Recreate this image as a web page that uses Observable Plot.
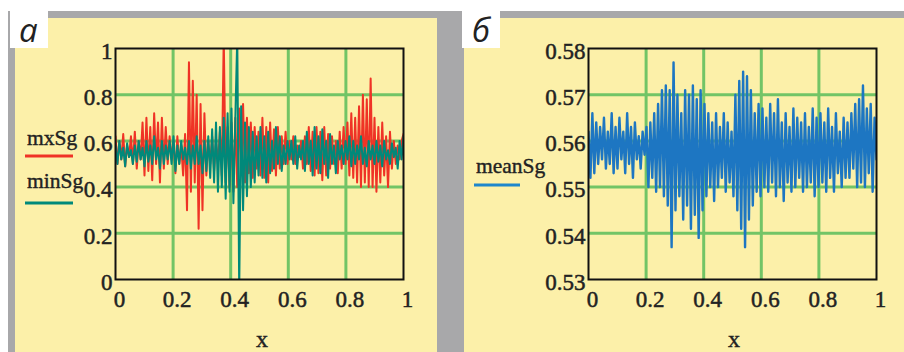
<!DOCTYPE html>
<html><head><meta charset="utf-8">
<script src="https://cdn.jsdelivr.net/npm/d3@7"></script>
<script src="https://cdn.jsdelivr.net/npm/@observablehq/plot@0.6"></script>
<style>
body{margin:0;background:#fff;width:904px;height:352px;position:relative;overflow:hidden;}
.box{position:absolute;}
.plot{position:absolute;top:0;}
#overlay{position:absolute;left:0;top:0;}
.plot svg text{font-family:"Liberation Serif","Times New Roman",serif !important;font-size:23px !important;stroke:#222;stroke-width:0.5px;}
.serif text{stroke:#222;stroke-width:0.4px;}
</style></head><body>
<div class="box" style="left:8px;top:11px;width:444px;height:341px;background:#a8a8aa"></div>
<div class="box" style="left:15px;top:18px;width:422px;height:334px;background:#fcf0a9"></div>
<div class="box" style="left:10px;top:11px;width:38px;height:37px;background:#fff"></div>
<div class="box" style="left:452px;top:11px;width:452px;height:341px;background:#a8a8aa"></div>
<div class="box" style="left:464px;top:18px;width:440px;height:334px;background:#fcf0a9"></div>
<div class="box" style="left:462px;top:11px;width:38px;height:37px;background:#fff"></div>
<div id="left" class="plot" style="left:0"></div>
<div id="right" class="plot" style="left:452px"></div>
<svg id="overlay" width="904" height="352">
  <g font-family="'Open Sans','Noto Sans',sans-serif" font-style="italic" font-size="33" fill="#222">
    <text x="19" y="42">а</text>
    <text x="472" y="42">б</text>
  </g>
  <g class="serif" font-family="'Liberation Serif',serif" font-size="21.5" fill="#222">
    <text x="27" y="145">mxSg</text>
    <text x="27" y="188">minSg</text>
    <text x="476" y="173">meanSg</text>
    <text x="262" y="347" text-anchor="middle" font-size="24">x</text>
    <text x="734" y="347" text-anchor="middle" font-size="24">x</text>
  </g>
  <line x1="25" x2="73" y1="156" y2="156" stroke="#ef3326" stroke-width="3"/>
  <line x1="25" x2="73" y1="203" y2="203" stroke="#00897a" stroke-width="3"/>
  <line x1="474" x2="520" y1="185" y2="185" stroke="#1d86cc" stroke-width="3"/>
</svg>
<script>
const xTicks = [0, 0.2, 0.4, 0.6, 0.8, 1];
const yTicksA = [0, 0.2, 0.4, 0.6, 0.8, 1];
const yTicksB = [0.53, 0.54, 0.55, 0.56, 0.57, 0.58];

const mxSg = [
 0.62,0.5,0.6,0.52,0.63,0.49,0.58,0.53,0.62,0.5,0.64,0.48,0.6,0.52,0.68,
 0.45,0.7,0.47,0.66,0.43,0.72,0.5,0.68,0.42,0.7,0.48,0.66,0.5,0.62,0.52,
 0.6,0.46,0.62,0.5,0.58,0.45,0.63,0.3,0.94,0.38,0.86,0.42,0.8,0.22,0.76,
 0.3,0.72,0.45,0.6,0.5,0.62,0.47,0.6,0.5,0.64,0.45,1.05,0.42,0.66,0.4,
 0.68,0.38,0.7,0.4,0.74,0.45,0.76,0.42,0.7,0.46,0.68,0.44,0.66,0.48,0.64,
 0.45,0.7,0.44,0.66,0.42,0.68,0.47,0.65,0.45,0.66,0.48,0.62,0.5,0.64,0.5,
 0.6,0.52,0.62,0.5,0.58,0.53,0.6,0.48,0.62,0.5,0.66,0.47,0.64,0.45,0.66,
 0.46,0.64,0.43,0.66,0.45,0.63,0.48,0.62,0.5,0.6,0.46,0.64,0.48,0.66,0.5,
 0.68,0.45,0.72,0.44,0.7,0.42,0.75,0.4,0.8,0.42,0.78,0.4,0.87,0.4,0.7,
 0.38,0.66,0.42,0.68,0.45,0.62,0.4,0.64,0.48,0.6,0.5,0.58,0.52,0.6,0.63
];
const minSg = [
 0.58,0.5,0.6,0.52,0.57,0.49,0.59,0.53,0.56,0.5,0.58,0.51,0.6,0.52,0.57,
 0.49,0.6,0.51,0.58,0.5,0.62,0.52,0.57,0.48,0.6,0.5,0.58,0.52,0.6,0.5,
 0.62,0.47,0.58,0.5,0.6,0.52,0.57,0.5,0.6,0.48,0.58,0.5,0.62,0.5,0.58,
 0.46,0.6,0.47,0.62,0.44,0.65,0.42,0.68,0.38,0.66,0.4,0.7,0.35,0.72,0.38,
 0.74,0.33,0.7,1.05,-0.05,0.75,0.3,0.68,0.36,0.66,0.4,0.64,0.42,0.62,0.45,
 0.66,0.44,0.62,0.42,0.64,0.46,0.6,0.48,0.66,0.5,0.62,0.47,0.58,0.5,0.6,
 0.52,0.6,0.5,0.62,0.48,0.58,0.52,0.6,0.47,0.64,0.5,0.6,0.45,0.66,0.48,
 0.62,0.46,0.65,0.5,0.6,0.44,0.63,0.5,0.58,0.46,0.6,0.52,0.58,0.5,0.6,
 0.52,0.62,0.49,0.6,0.5,0.58,0.52,0.62,0.5,0.57,0.49,0.6,0.52,0.58,0.5,
 0.6,0.51,0.58,0.49,0.6,0.52,0.56,0.5,0.59,0.53,0.57,0.48,0.6,0.52,0.62
];
const meanSg = [
 0.562,0.552,0.566,0.553,0.564,0.555,0.563,0.556,0.565,0.554,0.562,0.555,0.566,0.553,0.563,
 0.554,0.565,0.556,0.562,0.553,0.566,0.555,0.563,0.552,0.564,0.556,0.561,0.554,0.562,0.557,
 0.563,0.55,0.564,0.552,0.566,0.549,0.568,0.55,0.571,0.548,0.572,0.546,0.571,0.537,0.577,
 0.545,0.57,0.548,0.566,0.543,0.571,0.546,0.57,0.541,0.572,0.544,0.569,0.539,0.571,0.545,
 0.568,0.548,0.566,0.55,0.564,0.547,0.566,0.55,0.563,0.552,0.566,0.549,0.564,0.551,0.562,
 0.548,0.57,0.545,0.573,0.541,0.575,0.537,0.574,0.543,0.571,0.546,0.566,0.549,0.568,0.548,
 0.567,0.55,0.565,0.549,0.568,0.551,0.566,0.548,0.569,0.55,0.564,0.547,0.566,0.551,0.563,
 0.549,0.567,0.55,0.565,0.552,0.564,0.549,0.566,0.55,0.563,0.551,0.567,0.548,0.565,0.55,
 0.566,0.551,0.564,0.549,0.567,0.552,0.563,0.549,0.566,0.553,0.562,0.55,0.565,0.552,0.564,
 0.552,0.566,0.554,0.568,0.55,0.569,0.551,0.572,0.55,0.567,0.553,0.568,0.549,0.565,0.556
];

const toXY = arr => arr.map((v, i) => ({x: i / (arr.length - 1), y: v}));
const GRID = "#72c466";
const fmt = d => String(d);

function panel({yDomain, yTicks, series, marginLeft, marginRight}) {
  return Plot.plot({
    width: 452, height: 352,
    marginLeft, marginRight, marginTop: 48, marginBottom: 73,
    style: {background: "transparent", overflow: "visible"},
    x: {domain: [0, 1]},
    y: {domain: yDomain},
    marks: [
      Plot.ruleX(xTicks.slice(1, -1), {stroke: GRID, strokeWidth: 3}),
      Plot.ruleY(yTicks.slice(1, -1), {stroke: GRID, strokeWidth: 3}),
      ...series.map(s => Plot.lineY(toXY(s.data), {x: "x", y: "y", stroke: s.color, strokeWidth: s.w, clip: true})),
      Plot.frame({stroke: "#111", strokeWidth: 2}),
      Plot.axisX({ticks: xTicks, tickFormat: fmt, tickSize: 0, tickPadding: 11, dx: 4, label: null, fill: "#222"}),
      Plot.axisY({ticks: yTicks, tickFormat: fmt, tickSize: 0, tickPadding: 3, dy: 3, label: null, fill: "#222"})
    ]
  });
}

document.getElementById("left").append(panel({
  yDomain: [0, 1], yTicks: yTicksA, marginLeft: 115, marginRight: 49,
  series: [{data: mxSg, color: "#ef3326", w: 2}, {data: minSg, color: "#00897a", w: 2}]
}));
document.getElementById("right").append(panel({
  yDomain: [0.53, 0.58], yTicks: yTicksB, marginLeft: 136, marginRight: 28,
  series: [{data: meanSg, color: "#1d76c2", w: 2.4}]
}));
</script>
</body></html>
